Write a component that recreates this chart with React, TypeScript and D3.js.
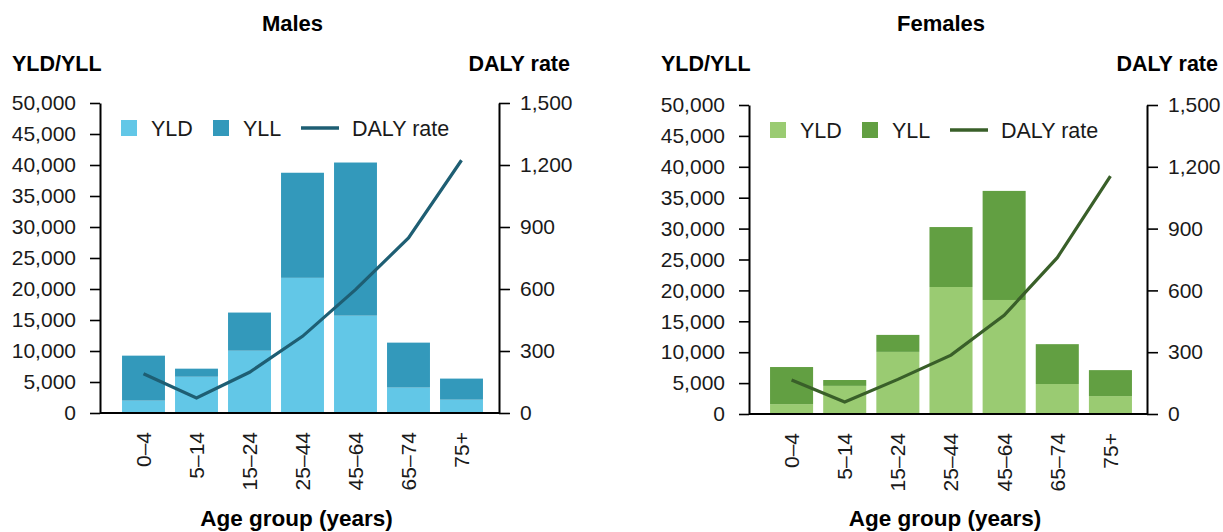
import { useEffect, useRef } from "react";
import * as d3 from "d3";

const ageGroups = ["0–4", "5–14", "15–24", "25–44", "45–64", "65–74", "75+"];

// Males
const maleYLD = [2000, 5850, 10050, 21800, 15700, 4100, 2150];
const maleYLL = [7250, 1300, 6150, 16950, 24700, 7250, 3400];
const maleRate = [190, 73, 197, 371, 597, 847, 1223];

// Females
const femaleYLD = [1600, 4550, 10050, 20550, 18450, 4850, 2900];
const femaleYLL = [6000, 950, 2750, 9700, 17650, 6450, 4200];
const femaleRate = [165, 58, 168, 286, 479, 759, 1155];

const leftTicks = [0, 5000, 10000, 15000, 20000, 25000, 30000, 35000, 40000, 45000, 50000];
const rightTicks = [0, 300, 600, 900, 1200, 1500];

const FONT = "'Liberation Sans', Arial, sans-serif";

type Panel = {
  title: string;
  yld: number[];
  yll: number[];
  rate: number[];
  colors: { yld: string; yll: string; line: string };
  left: number; // left axis x
  right: number; // right axis x
  top: number;
  bottom: number;
  bandStart: number;
  bandEnd: number;
};

const panels: Panel[] = [
  {
    title: "Males",
    yld: maleYLD,
    yll: maleYLL,
    rate: maleRate,
    colors: { yld: "#62c7e7", yll: "#3399bb", line: "#1e5e73" },
    left: 100,
    right: 499,
    top: 103,
    bottom: 413,
    bandStart: 117,
    bandEnd: 488,
  },
  {
    title: "Females",
    yld: femaleYLD,
    yll: femaleYLL,
    rate: femaleRate,
    colors: { yld: "#9acb72", yll: "#629f42", line: "#395f29" },
    left: 749,
    right: 1147,
    top: 105,
    bottom: 414,
    bandStart: 765,
    bandEnd: 1137,
  },
];

function drawPanel(svg: any, p: Panel) {
  const g = svg.append("g");

  const x = d3
    .scaleBand()
    .domain(ageGroups)
    .range([p.bandStart, p.bandEnd])
    .paddingInner(0.19)
    .paddingOuter(0.095);

  const y = d3.scaleLinear().domain([0, 50000]).range([p.bottom, p.top]);
  const y2 = d3.scaleLinear().domain([0, 1500]).range([p.bottom, p.top]);

  // Stacked bars
  const rows = ageGroups.map((a, i) => ({ age: a, yld: p.yld[i], yll: p.yll[i] }));
  const stack = d3.stack().keys(["yld", "yll"])(rows as any);
  const fills = [p.colors.yld, p.colors.yll];

  g.selectAll(".layer")
    .data(stack)
    .enter()
    .append("g")
    .attr("fill", (_: any, i: number) => fills[i])
    .selectAll("rect")
    .data((d: any) => d)
    .enter()
    .append("rect")
    .attr("x", (d: any) => x(d.data.age))
    .attr("y", (d: any) => y(d[1]))
    .attr("width", x.bandwidth())
    .attr("height", (d: any) => y(d[0]) - y(d[1]));

  // Baseline
  g.append("line")
    .attr("x1", p.left)
    .attr("x2", p.right)
    .attr("y1", p.bottom)
    .attr("y2", p.bottom)
    .attr("stroke", "#000")
    .attr("stroke-width", 2);

  // Left axis
  const la = g
    .append("g")
    .attr("transform", `translate(${p.left},0)`)
    .call(
      d3
        .axisLeft(y)
        .tickValues(leftTicks)
        .tickSize(10)
        .tickSizeOuter(0)
        .tickPadding(14)
        .tickFormat(d3.format(","))
    );

  // Right axis
  const ra = g
    .append("g")
    .attr("transform", `translate(${p.right},0)`)
    .call(
      d3
        .axisRight(y2)
        .tickValues(rightTicks)
        .tickSize(11)
        .tickSizeOuter(0)
        .tickPadding(10)
        .tickFormat(d3.format(","))
    );

  [la, ra].forEach((ax) => {
    ax.select(".domain").attr("stroke", "#000").attr("stroke-width", 2);
    ax.selectAll(".tick line").attr("stroke", "#000").attr("stroke-width", 1.6);
    ax.selectAll(".tick text")
      .attr("fill", "#1a1a1a")
      .style("font-family", FONT)
      .style("font-size", "21px");
  });

  // DALY rate line
  const line = d3
    .line<number>()
    .x((_, i) => (x(ageGroups[i]) as number) + x.bandwidth() / 2)
    .y((d) => y2(d));

  g.append("path")
    .datum(p.rate)
    .attr("fill", "none")
    .attr("stroke", p.colors.line)
    .attr("stroke-width", 3.2)
    .attr("d", line);

  // X labels (rotated)
  g.selectAll(".xl")
    .data(ageGroups)
    .enter()
    .append("text")
    .attr(
      "transform",
      (d: string) => `translate(${(x(d) as number) + x.bandwidth() / 2},${p.bottom + 19}) rotate(-90)`
    )
    .attr("text-anchor", "end")
    .attr("dy", "0.35em")
    .attr("fill", "#1a1a1a")
    .style("font-family", FONT)
    .style("font-size", "21px")
    .text((d: string) => d);

  const mid = (p.left + p.right) / 2;

  // Title
  g.append("text")
    .attr("x", mid - 7)
    .attr("y", 31)
    .attr("text-anchor", "middle")
    .style("font-family", FONT)
    .style("font-size", "22px")
    .style("font-weight", "bold")
    .text(p.title);

  // Axis titles
  g.append("text")
    .attr("x", p.left - 88)
    .attr("y", 71)
    .style("font-family", FONT)
    .style("font-size", "21.5px")
    .style("font-weight", "bold")
    .text("YLD/YLL");

  g.append("text")
    .attr("x", p.right + 71)
    .attr("y", 71)
    .attr("text-anchor", "end")
    .style("font-family", FONT)
    .style("font-size", "21.5px")
    .style("font-weight", "bold")
    .text("DALY rate");

  g.append("text")
    .attr("x", mid - 3)
    .attr("y", 526)
    .attr("text-anchor", "middle")
    .style("font-family", FONT)
    .style("font-size", "22.5px")
    .style("font-weight", "bold")
    .text("Age group (years)");

  // Legend
  const lx = p.left + 21;
  const ly = p.top + 25;
  const leg = g.append("g").style("font-family", FONT).style("font-size", "21.5px");
  leg.append("rect").attr("x", lx).attr("y", ly - 8).attr("width", 16).attr("height", 16).attr("fill", p.colors.yld);
  leg.append("text").attr("x", lx + 30).attr("y", ly).attr("dy", "0.35em").attr("fill", "#1a1a1a").text("YLD");
  leg.append("rect").attr("x", lx + 92).attr("y", ly - 8).attr("width", 16).attr("height", 16).attr("fill", p.colors.yll);
  leg.append("text").attr("x", lx + 122).attr("y", ly).attr("dy", "0.35em").attr("fill", "#1a1a1a").text("YLL");
  leg.append("line")
    .attr("x1", lx + 180)
    .attr("x2", lx + 218)
    .attr("y1", ly)
    .attr("y2", ly)
    .attr("stroke", p.colors.line)
    .attr("stroke-width", 3.5);
  leg.append("text").attr("x", lx + 231).attr("y", ly).attr("dy", "0.35em").attr("fill", "#1a1a1a").text("DALY rate");
}

const App = () => {
  const svgRef = useRef<SVGSVGElement>(null);

  useEffect(() => {
    const svg = d3.select(svgRef.current);
    svg.selectAll("*").remove();
    svg.append("rect").attr("width", 1223).attr("height", 532).attr("fill", "#fff");
    panels.forEach((p) => drawPanel(svg, p));
  }, []);

  return (
    <svg
      ref={svgRef}
      width={1223}
      height={532}
      style={{ position: "absolute", left: 0, top: 0, display: "block" }}
    ></svg>
  );
};

export default App;
